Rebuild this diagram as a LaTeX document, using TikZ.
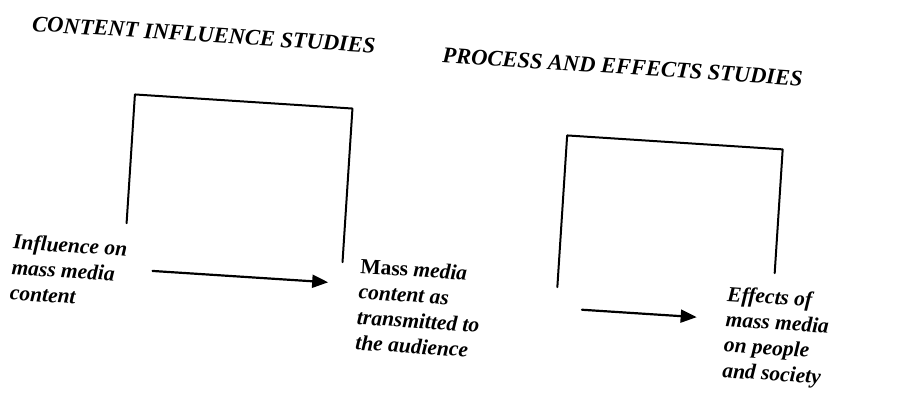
\documentclass[tikz,border=0pt]{standalone}
\usepackage{fontspec}
\setmainfont{Liberation Serif}
\usetikzlibrary{arrows.meta}

\begin{document}
\begin{tikzpicture}[x=1pt, y=-1pt, line cap=round, line join=round,
  head/.style={font=\fontsize{22.5}{26}\selectfont\bfseries\itshape, inner sep=0pt},
  txt/.style={font=\fontsize{21.5}{25.5}\selectfont\bfseries\itshape, align=left,
    inner sep=0pt, anchor=west},
  frame/.style={line width=2pt},
  flow/.style={line width=2.2pt, -{Triangle[length=16pt, width=13pt]}}]

\useasboundingbox (0,0) rectangle (899,393);

% ------------------------------------------------------------------
% whole page is scanned slightly askew
% ------------------------------------------------------------------
\begin{scope}[rotate around={-3.7:(450,196)}, transform shape]

% ------------------------------------------------------------------
% Headings
% ------------------------------------------------------------------
\node[head] (contentstudies) at (194,51) {CONTENT INFLUENCE STUDIES};
\node[head] (processstudies) at (614,56) {PROCESS AND EFFECTS STUDIES};

% ------------------------------------------------------------------
% Stage texts
% ------------------------------------------------------------------
\node[txt] (influence) at (17,295) {Influence on\\mass media\\content};
\node[txt] (mediacontent) at (365,310)
  {{\upshape Mass} media\\content as\\transmitted to\\the audience};
\node[txt] (effects) at (733,316)
  {Effects of\\mass media\\on people\\and society};

% ------------------------------------------------------------------
% Brackets spanning each kind of study
% ------------------------------------------------------------------
\draw[frame] (129,244) |- (347,115) -- (347,269);   % content influence
\draw[frame] (563,280) |- (779,128) -- (779,252);   % process and effects

% ------------------------------------------------------------------
% Flow arrows
% ------------------------------------------------------------------
\coordinate (flowA) at (158,290);
\coordinate (flowB) at (589,301);
\draw[flow, shorten >=31pt] (flowA) -- (flowA -| mediacontent.west);
\draw[flow, shorten >=29pt] (flowB) -- (flowB -| effects.west);

\end{scope}
\end{tikzpicture}
\end{document}
